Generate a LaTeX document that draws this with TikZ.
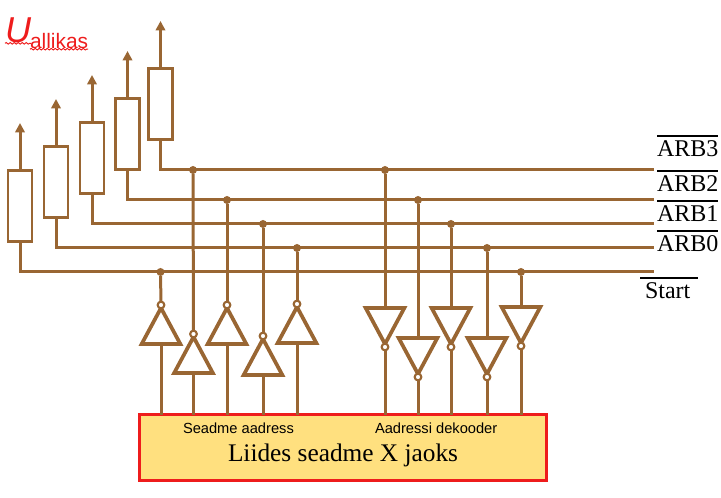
\documentclass[tikz,border=0pt]{standalone}
\usepackage{fontspec}
\setmainfont{Liberation Serif}
\setsansfont{Liberation Sans}
\usetikzlibrary{arrows.meta}
\usetikzlibrary{shapes.geometric}
\usetikzlibrary{decorations.pathmorphing}
\definecolor{wireBrown}{HTML}{996633}
\definecolor{boxRed}{HTML}{EE1C1C}
\definecolor{boxYellow}{HTML}{FFE07F}
\newcommand{\barLabel}[1]{\vbox{\hrule height 1.5pt \kern 3pt \hbox{#1}}}

\begin{document}
\begin{tikzpicture}[x=0.75pt, y=-0.75pt, inner sep=0pt, outer sep=0pt]
    \useasboundingbox (0,0) rectangle (721,498);

    \tikzstyle{myWire}=[draw=wireBrown, line width=2.25pt];
    \tikzstyle{every edge}=[myWire];
    \tikzstyle{myRes}=[rectangle, myWire, line width=2pt, minimum width=18pt, minimum height=53pt];
    \tikzstyle{myDot}=[circle, fill=wireBrown, minimum size=6pt];
    \tikzstyle{myBub}=[circle, draw=wireBrown, line width=1.6pt, fill=white, minimum size=5pt];
    \tikzstyle{myTri}=[isosceles triangle, isosceles triangle stretches, myWire, line width=2.8pt, minimum height=27pt, minimum width=29pt];
    \tikzstyle{triUp}=[myTri, shape border rotate=90, anchor=apex];
    \tikzstyle{triDown}=[myTri, shape border rotate=270, anchor=apex];
    \tikzstyle{myArrow}=[myWire, -{Triangle[width=7pt, length=7pt]}];
    \tikzstyle{sansRed}=[text=boxRed, font=\sffamily];
    \tikzstyle{wavy}=[draw=boxRed, line width=0.7pt, decorate, decoration={snake, amplitude=0.6pt, segment length=3pt}];

    % pull-up resistors
    \coordinate (top0) at (20,123);
    \coordinate (top1) at (56,99);
    \coordinate (top2) at (92,75);
    \coordinate (top3) at (127.5,51);
    \coordinate (top4) at (160.5,21);
    \node[myRes] (R0) at (20,206) {};
    \node[myRes] (R1) at (56,182) {};
    \node[myRes] (R2) at (92,158) {};
    \node[myRes] (R3) at (127.5,134) {};
    \node[myRes] (R4) at (160.5,104) {};
    \draw[myArrow] (R0.north) -- (top0);
    \draw[myArrow] (R1.north) -- (top1);
    \draw[myArrow] (R2.north) -- (top2);
    \draw[myArrow] (R3.north) -- (top3);
    \draw[myArrow] (R4.north) -- (top4);

    % rails
    \coordinate (endStart) at (654,272);
    \coordinate (endARB0) at (654,248);
    \coordinate (endARB1) at (654,224);
    \coordinate (endARB2) at (654,200);
    \coordinate (endARB3) at (654,170);
    \draw[myWire] (R0.south) |- (endStart);
    \draw[myWire] (R1.south) |- (endARB0);
    \draw[myWire] (R2.south) |- (endARB1);
    \draw[myWire] (R3.south) |- (endARB2);
    \draw[myWire] (R4.south) |- (endARB3);

    % interface box
    \node[rectangle, draw=boxRed, fill=boxYellow, line width=2.25pt, minimum width=305.25pt, minimum height=49.5pt] (box) at (343,448) {};
    \node[anchor=base west, font=\sffamily\fontsize{11}{13}\selectfont] (addr) at (183,433.5) {Seadme aadress};
    \node[anchor=base west, font=\sffamily\fontsize{11}{13}\selectfont] (dec) at (375,433.5) {Aadressi dekooder};
    \node[anchor=base west, font=\fontsize{19}{22}\selectfont] (title) at (228,461.5) {Liides seadme X jaoks};

    % drivers, address side
    \node[myDot] (d1) at (160.5,272) {};
    \node[myDot] (d2) at (193,170) {};
    \node[myDot] (d3) at (227,200) {};
    \node[myDot] (d4) at (263,224) {};
    \node[myDot] (d5) at (297,248) {};
    \node[triUp] (t1) at (161,308) {};
    \node[triUp] (t2) at (193.5,337) {};
    \node[triUp] (t3) at (227,308) {};
    \node[triUp] (t4) at (263,339) {};
    \node[triUp] (t5) at (297,307) {};
    \node[myBub] (b1) at (161,305) {} edge (d1) edge (t1.apex);
    \node[myBub] (b2) at (193.5,334) {} edge (d2) edge (t2.apex);
    \node[myBub] (b3) at (227,305) {} edge (d3) edge (t3.apex);
    \node[myBub] (b4) at (263,336) {} edge (d4) edge (t4.apex);
    \node[myBub] (b5) at (297,304) {} edge (d5) edge (t5.apex);
    \draw[myWire] (t1.lower side) -- (t1.lower side |- box.north);
    \draw[myWire] (t2.lower side) -- (t2.lower side |- box.north);
    \draw[myWire] (t3.lower side) -- (t3.lower side |- box.north);
    \draw[myWire] (t4.lower side) -- (t4.lower side |- box.north);
    \draw[myWire] (t5.lower side) -- (t5.lower side |- box.north);

    % receivers, decoder side
    \node[myDot] (d6) at (385,170) {};
    \node[myDot] (d7) at (418,200) {};
    \node[myDot] (d8) at (451,224) {};
    \node[myDot] (d9) at (487,248) {};
    \node[myDot] (d10) at (521,272) {};
    \node[triDown] (t6) at (385,344) {};
    \node[triDown] (t7) at (418,374) {};
    \node[triDown] (t8) at (451,344) {};
    \node[triDown] (t9) at (487,374) {};
    \node[triDown] (t10) at (521,343) {};
    \draw[myWire] (d6) -- (t6.lower side);
    \draw[myWire] (d7) -- (t7.lower side);
    \draw[myWire] (d8) -- (t8.lower side);
    \draw[myWire] (d9) -- (t9.lower side);
    \draw[myWire] (d10) -- (t10.lower side);
    \node[myBub] (b6) at (385,347) {} edge (b6 |- box.north);
    \node[myBub] (b7) at (418,377) {} edge (b7 |- box.north);
    \node[myBub] (b8) at (451,347) {} edge (b8 |- box.north);
    \node[myBub] (b9) at (487,377) {} edge (b9 |- box.north);
    \node[myBub] (b10) at (521,346) {} edge (b10 |- box.north);

    % labels
    \node[anchor=base west, font=\fontsize{18}{20}\selectfont] (ARB3) at (657,157) {\barLabel{ARB3}};
    \node[anchor=base west, font=\fontsize{18}{20}\selectfont] (ARB2) at (657,192) {\barLabel{ARB2}};
    \node[anchor=base west, font=\fontsize{18}{20}\selectfont] (ARB1) at (657,222) {\barLabel{ARB1}};
    \node[anchor=base west, font=\fontsize{18}{20}\selectfont] (ARB0) at (657,252) {\barLabel{ARB0}};
    \node[anchor=base west, font=\fontsize{18}{20}\selectfont] (Start) at (640,299) {\barLabel{\kern3.75pt Start\kern6pt}};

    \node[sansRed, anchor=base west, font=\sffamily\itshape\fontsize{27}{30}\selectfont] (U) at (5,43) {U};
    \node[sansRed, anchor=base west, font=\sffamily\fontsize{15.7}{18}\selectfont] (allikas) at (30,49) {allikas};
    \draw[wavy] (U.south west) -- (U.south east);
    \draw[wavy] (allikas.south west) -- (allikas.south east);
\end{tikzpicture}
\end{document}
